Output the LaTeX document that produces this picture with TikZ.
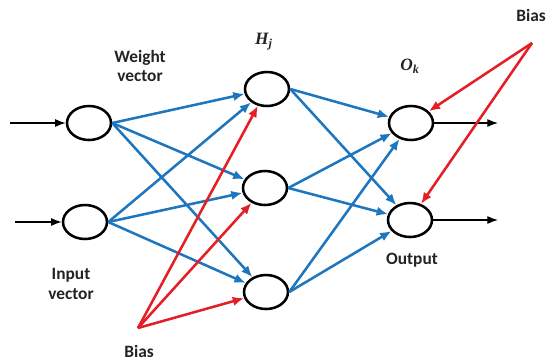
\documentclass[tikz,border=0pt]{standalone}
\usepackage{fontspec}
\setmainfont{Carlito}
\newfontfamily\mathlike{Liberation Serif}
\usetikzlibrary{arrows.meta,shapes.geometric}

\definecolor{wblue}{RGB}{30,118,190}
\definecolor{bred}{RGB}{228,30,36}
\definecolor{txt}{RGB}{35,35,35}

\tikzset{every picture/.style={line width=0.75pt}}
\tikzset{
  neuron/.style={ellipse,draw,line width=1.9pt,minimum width=33pt,minimum height=25.5pt,inner sep=0pt},
  weight/.style={draw=wblue,line width=1.9pt,-{Latex[length=8.5pt,width=7pt]}},
  biasarrow/.style={draw=bred,line width=1.9pt,-{Latex[length=8.5pt,width=7pt]}},
  signal/.style={draw,line width=0.9pt,-{Latex[length=8pt,width=6pt]}},
  label/.style={inner sep=0.75pt,align=center,text=txt,font=\fontsize{13}{14.5}\selectfont\bfseries},
  symlabel/.style={inner sep=0.75pt,text=txt,font=\mathlike\fontsize{13}{14}\selectfont\bfseries\itshape}
}

\begin{document}
\begin{tikzpicture}[x=0.75pt,y=0.75pt,yscale=-1,xscale=1]
\useasboundingbox (0,0) rectangle (546,362);

%Shape: Ellipse [input layer]
\node [neuron] (in1) at (89,123) {};
\node [neuron] (in2) at (85,222) {};
%Shape: Ellipse [hidden layer]
\node [neuron] (hid1) at (267,89) {};
\node [neuron] (hid2) at (265,188) {};
\node [neuron] (hid3) at (266,292) {};
%Shape: Ellipse [output layer]
\node [neuron] (out1) at (411,123) {};
\node [neuron] (out2) at (410,220) {};

%Coordinates for free ends
\coordinate (src1) at (10,123);
\coordinate (src2) at (15,222);
\coordinate (dst1) at (498,123);
\coordinate (dst2) at (498,220);
\coordinate (biaslow) at (138,328);
\coordinate (biashigh) at (532,43);

%Straight Lines [signals in and out]
\draw [signal] (src1) -- (in1);
\draw [signal] (src2) -- (in2);
\draw [signal] (out1) -- (dst1);
\draw [signal] (out2) -- (dst2);

%Straight Lines [input to hidden]
\draw [weight] (in1.east) -- (hid1);
\draw [weight] (in1.east) -- (hid2);
\draw [weight] (in1.east) -- (hid3);
\draw [weight] (in2.east) -- (hid1);
\draw [weight] (in2.east) -- (hid2);
\draw [weight] (in2.east) -- (hid3);

%Straight Lines [hidden to output]
\draw [weight] (hid1.east) -- (out1);
\draw [weight] (hid1.east) -- (out2);
\draw [weight] (hid2.east) -- (out1);
\draw [weight] (hid2.east) -- (out2);
\draw [weight] (hid3.east) -- (out1);
\draw [weight] (hid3.east) -- (out2);

%Straight Lines [bias]
\draw [biasarrow] (biaslow) -- (hid1);
\draw [biasarrow] (biaslow) -- (hid2);
\draw [biasarrow] (biaslow) -- (hid3);
\draw [biasarrow] (biashigh) -- (out1);
\draw [biasarrow] (biashigh) -- (out2);

% Text Node
\node [label] (wlabel) at (140,66) {Weight\\vector};
% Text Node
\node [symlabel] (hlabel) at (264,42) {H\textsubscript{\itshape j}};
% Text Node
\node [symlabel] (olabel) at (410,66) {O\textsubscript{\itshape k}};
% Text Node
\node [label] (btop) at (531,15) {Bias};
% Text Node
\node [label] (ilabel) at (71,284) {Input\\vector};
% Text Node
\node [label] (bbottom) at (139,351) {Bias};
% Text Node
\node [label] (outlabel) at (412,260) {Output};

\end{tikzpicture}
\end{document}
